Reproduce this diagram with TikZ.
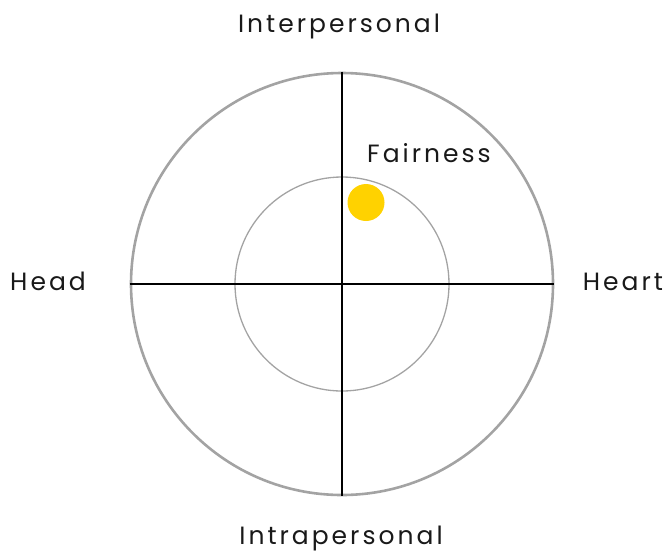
\documentclass[tikz,border=0pt]{standalone}
\usepackage{fontspec}
\setmainfont{Poppins}[LetterSpace=12]
\definecolor{ringgray}{HTML}{A3A3A3}
\definecolor{dotyellow}{HTML}{FFD200}
\begin{document}
\begin{tikzpicture}[x=1pt,y=-1pt,
  lbl/.style={font=\fontsize{25}{28}\selectfont, text=black!90, inner sep=0pt}]
\useasboundingbox (0,0) rectangle (666,555);
\coordinate (c) at (342,284);
\node[circle, draw=ringgray, line width=2.6pt, minimum size=422pt, inner sep=0pt] (outer) at (c) {};
\node[circle, draw=ringgray, line width=1.3pt, minimum size=214pt, inner sep=0pt] (inner) at (c) {};
\draw[line width=1.5pt] (outer.west) -- (outer.east);
\draw[line width=1.5pt] (outer.north) -- (outer.south);
\node[circle, fill=dotyellow, minimum size=37pt, inner sep=0pt] (dot) at (366,202.5) {};
\node[lbl] (top) at (339,26) {Interpersonal};
\node[lbl] (bot) at (341,538) {Intrapersonal};
\node[lbl] (head) at (48,281) {Head};
\node[lbl] (heart) at (623,282) {Heart};
\node[lbl] (fair) at (429,153) {Fairness};
\end{tikzpicture}
\end{document}
